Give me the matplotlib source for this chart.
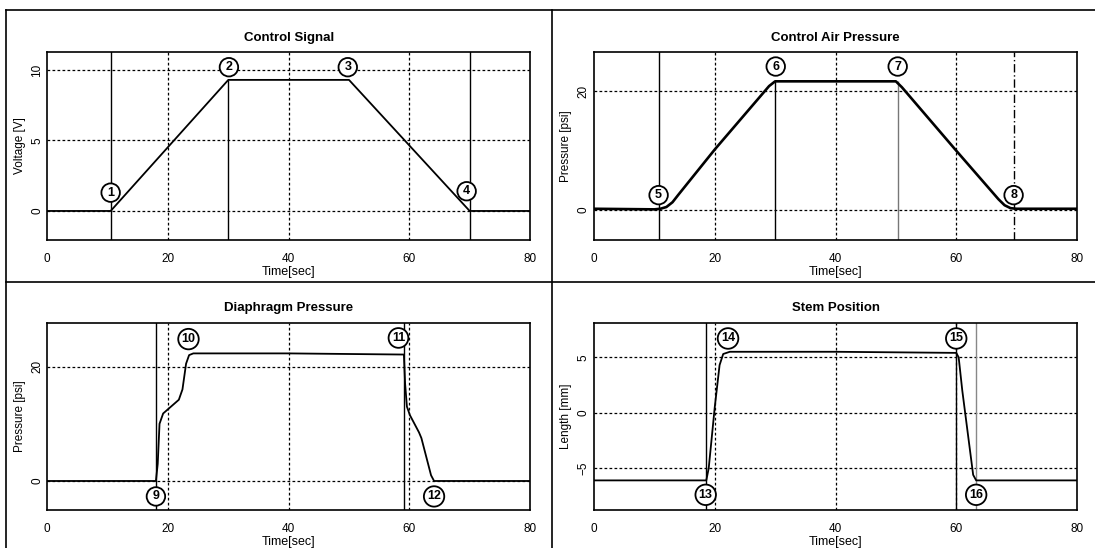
import numpy as np
import matplotlib
matplotlib.use('Agg')
import matplotlib.pyplot as plt
from matplotlib.lines import Line2D

# ---- data ----
# Control Signal
t1 = [0, 10.5, 30, 50, 70, 80]
v1 = [0, 0, 9.3, 9.3, 0, 0]

# Control Air Pressure
t2 = [0, 10, 11, 12, 13, 14, 20, 29, 30, 50, 51, 60, 67, 68, 69, 70, 80]
p2 = [0.2, 0.1, 0.2, 0.5, 1.3, 2.6, 10.2, 20.9, 21.7, 21.7, 20.7, 10.0, 1.8, 0.8, 0.3, 0.2, 0.2]

# Diaphragm Pressure
t3 = [0, 18.0, 18.3, 18.6, 19.2, 20.5, 21.8, 22.4, 23.0, 23.5, 24.2, 40, 59.1,
      59.3, 59.6, 60.1, 61.6, 62.0, 63.6, 64.1, 80]
p3 = [0, 0, 3, 10, 11.8, 13, 14.2, 16, 20.5, 22, 22.3, 22.3, 22.1,
      17, 13, 11.5, 8.5, 7.5, 1, 0, 0]

# Stem Position
t4 = [0, 18.6, 19.0, 20.0, 20.8, 21.4, 22.5, 40, 60.0, 60.4, 61.0, 62.8, 63.3, 80]
s4 = [-6.1, -6.1, -5.0, 0.5, 4.3, 5.3, 5.5, 5.5, 5.4, 5.0, 2.0, -5.6, -6.1, -6.1]

# circled markers: label, x, y (data units)
marks1 = [('1', 10.5, 1.3), ('2', 30.1, 10.2), ('3', 49.8, 10.2), ('4', 69.5, 1.4)]
marks2 = [('5', 10.7, 2.5), ('6', 30.1, 24.2), ('7', 50.3, 24.2), ('8', 69.5, 2.5)]
marks3 = [('9', 18.0, -2.7), ('10', 23.4, 24.8), ('11', 58.2, 25.0), ('12', 64.1, -2.7)]
marks4 = [('13', 18.5, -7.4), ('14', 22.2, 6.7), ('15', 60.0, 6.7), ('16', 63.3, -7.4)]

W, H = 1095, 548
fig = plt.figure(figsize=(W / 100, H / 100), dpi=100)

narrow = ['Liberation Sans Narrow', 'Liberation Sans', 'DejaVu Sans']
bold = ['Liberation Sans', 'DejaVu Sans']


def px(x0, y0, x1, y1):
    # rect in pixel coords -> figure fraction
    return [x0 / W, 1 - y1 / H, (x1 - x0) / W, (y1 - y0) / H]


def setup(ax, title, ylabel, ylim, yticks):
    ax.set_xlim(0, 80)
    ax.set_ylim(*ylim)
    ax.set_xticks([0, 20, 40, 60, 80])
    ax.set_yticks(yticks)
    ax.tick_params(length=0, labelsize=8.5)
    ax.tick_params(axis='x', pad=9)
    ax.tick_params(axis='y', pad=3, labelrotation=90)
    for lbl in ax.get_xticklabels() + ax.get_yticklabels():
        lbl.set_family(narrow)
    for lbl in ax.get_yticklabels():
        lbl.set_va('center')
    for x in [20, 40, 60]:
        ax.axvline(x, color='black', lw=0.9, ls=(0, (2.2, 1.8)), zorder=1)
    for y in yticks:
        ax.axhline(y, color='black', lw=0.9, ls=(0, (2.2, 1.8)), zorder=1)
    for sp in ax.spines.values():
        sp.set_linewidth(1.2)
    ax.set_title(title, fontsize=9.5, fontweight='bold', family=bold, pad=8)
    ax.set_xlabel('Time[sec]', fontsize=9, family=narrow, labelpad=1)
    ax.set_ylabel(ylabel, fontsize=8.5, family=narrow, labelpad=4)


def circles(ax, marks):
    for lab, x, y in marks:
        ax.text(x, y, lab, ha='center', va='center', fontsize=9, fontweight='bold',
                family=narrow, zorder=10,
                bbox=dict(boxstyle='circle,pad=0.26', fc='white', ec='black', lw=1.3))


ax1 = fig.add_axes(px(47.3, 51.7, 530, 240))
ax2 = fig.add_axes(px(594, 51.7, 1077, 240))
ax3 = fig.add_axes(px(47.3, 322.5, 530, 510))
ax4 = fig.add_axes(px(594, 322.5, 1077, 510))

setup(ax1, 'Control Signal', 'Voltage [V]', (-2.06, 11.3), [0, 5, 10])
setup(ax2, 'Control Air Pressure', 'Pressure [psi]', (-5.07, 26.7), [0, 20])
setup(ax3, 'Diaphragm Pressure', 'Pressure [psi]', (-5.07, 27.7), [0, 20])
setup(ax4, 'Stem Position', 'Length [mm]', (-8.77, 8.14), [-5, 0, 5])

# event lines
ax1.axvline(10.5, color='black', lw=1.0, zorder=2)
ax1.axvline(70, color='black', lw=1.0, zorder=2)
ax1.vlines(30, -2.06, 9.3, color='black', lw=1.0, zorder=2)

ax2.axvline(10.7, color='black', lw=1.0, zorder=2)
ax2.vlines(30, -5.07, 21.7, color='black', lw=1.0, zorder=2)
ax2.vlines(50.3, -5.07, 21.7, color='#777777', lw=1.0, zorder=2)
ax2.axvline(69.5, color='black', lw=1.0, ls=(0, (6, 2, 1, 2)), zorder=2)

ax3.axvline(18.0, color='black', lw=1.0, zorder=2)
ax3.axvline(59.1, color='black', lw=1.0, zorder=2)

ax4.axvline(18.5, color='black', lw=1.0, zorder=2)
ax4.axvline(60.0, color='black', lw=1.0, zorder=2)
ax4.axvline(63.3, color='#888888', lw=1.0, zorder=2)

# signals
ax1.plot(t1, v1, color='black', lw=1.3, zorder=3)
ax2.plot(t2, p2, color='black', lw=1.9, zorder=3)
ax3.plot(t3, p3, color='black', lw=1.3, zorder=3)
ax4.plot(t4, s4, color='black', lw=1.3, zorder=3)

circles(ax1, marks1)
circles(ax2, marks2)
circles(ax3, marks3)
circles(ax4, marks4)

# panel frame lines
frame = [((6, 6), (10, H)), ((6, W), (10, 10)), ((551.7, 551.7), (10, H)), ((6, W), (281.7, 281.7))]
for xs, ys in frame:
    fig.add_artist(Line2D([x / W for x in xs], [1 - y / H for y in ys],
                          color='black', lw=1.2, transform=fig.transFigure))

fig.savefig('out.png', dpi=100)
